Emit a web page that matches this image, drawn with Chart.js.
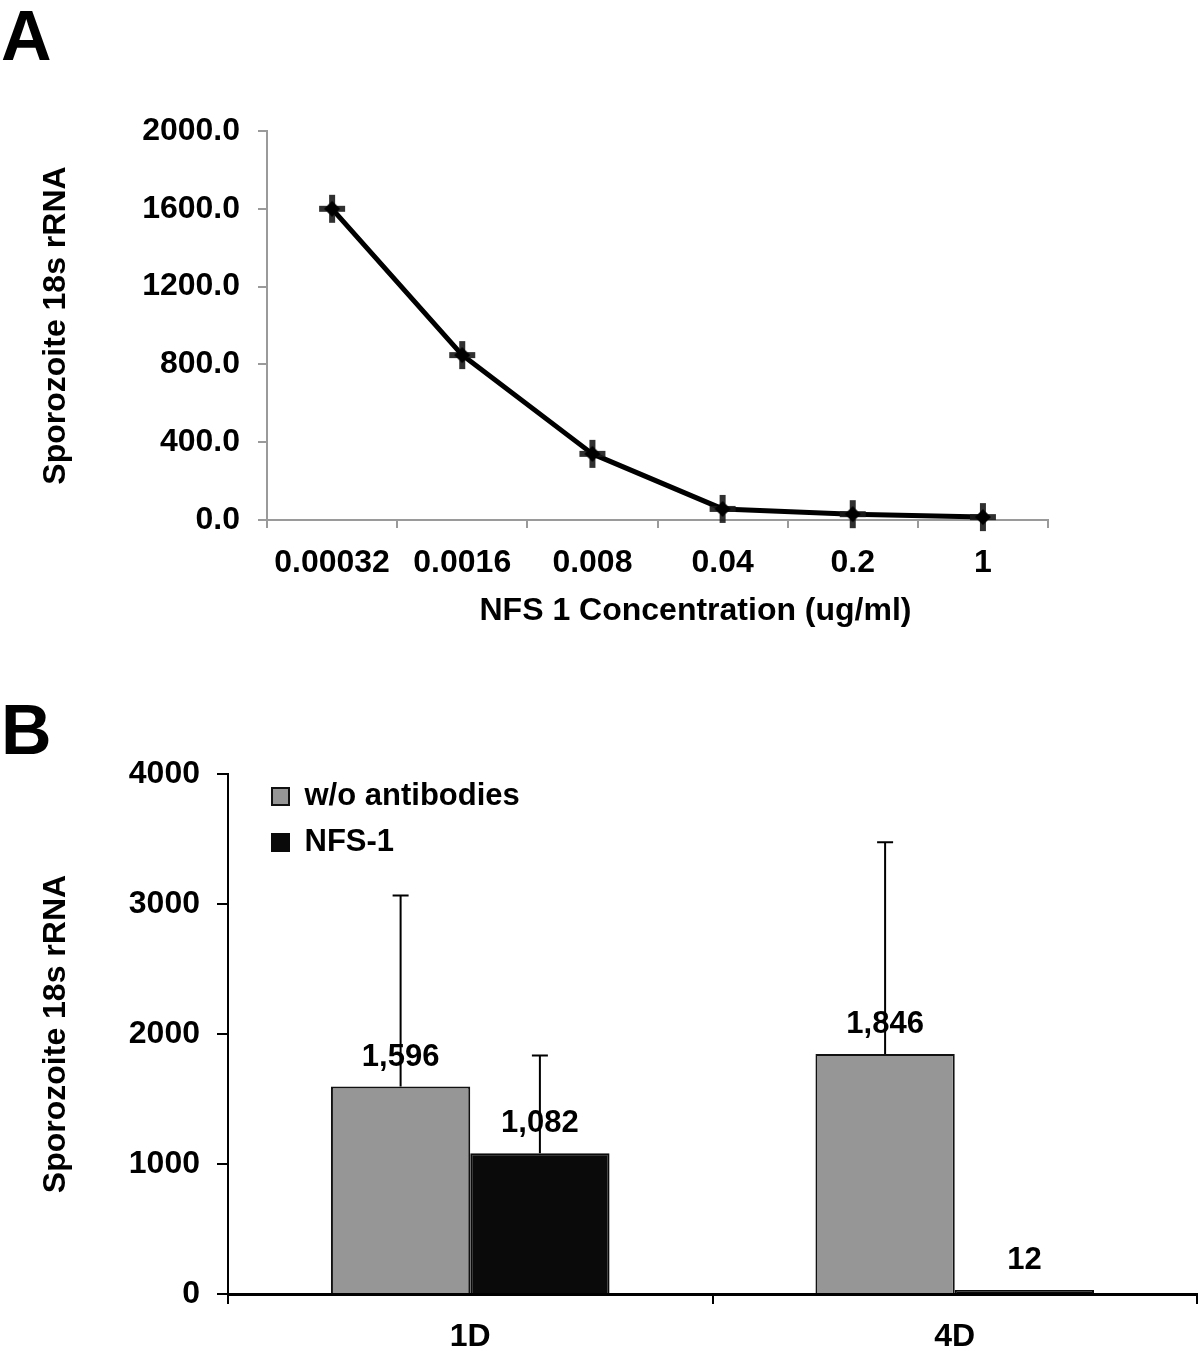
<!DOCTYPE html>
<html>
<head>
<meta charset="utf-8">
<script src="https://cdn.jsdelivr.net/npm/chart.js@4.4.0/dist/chart.umd.min.js"></script>
<style>
html,body{margin:0;padding:0;background:#fff;width:1200px;height:1354px;overflow:hidden;}
.panel{position:absolute;font-family:"Liberation Sans",Arial,sans-serif;font-weight:bold;font-size:70px;line-height:70px;color:#000;}
#wrapA{position:absolute;left:0;top:0;width:1200px;height:650px;}
#wrapB{position:absolute;left:0;top:650px;width:1200px;height:704px;}
canvas{display:block;}
</style>
</head>
<body>
<div class="panel" style="left:1px;top:1px;">A</div>
<div class="panel" style="left:1px;top:695px;">B</div>
<div id="wrapA"><canvas id="chartA" width="1200" height="650"></canvas></div>
<div id="wrapB"><canvas id="chartB" width="1200" height="704"></canvas></div>
<script>
// ---------- Data: panel A ----------
const concLabels = ['0.00032', '0.0016', '0.008', '0.04', '0.2', '1'];
const rrnaValues = [1600, 848, 340, 57, 30, 15];
const xTitleA = 'NFS 1 Concentration (ug/ml)';
const yTitle = 'Sporozoite 18s rRNA';

// ---------- Data: panel B ----------
const groupLabels = ['1D', '4D'];
const seriesNames = ['w/o antibodies', 'NFS-1'];
const withoutAbValues = [1596, 1846];
const nfs1Values = [1082, 12];
const withoutAbErr = [1469, 1629];
const nfs1Err = [752, 0];

const FONT = '"Liberation Sans", Arial, Helvetica, sans-serif';
Chart.defaults.font.family = FONT;
Chart.defaults.font.weight = 'bold';
Chart.defaults.font.size = 32;
Chart.defaults.color = '#000';

// marker: plus with dark diamond centre
function makeMarker() {
  const c = document.createElement('canvas');
  c.width = 30; c.height = 30;
  const g = c.getContext('2d');
  g.fillStyle = 'rgba(25,25,25,0.9)';
  g.fillRect(2, 12, 26, 6);
  g.fillRect(12, 1, 6, 28);
  g.fillStyle = '#000';
  g.beginPath();
  g.moveTo(15, 7); g.lineTo(23, 15); g.lineTo(15, 23); g.lineTo(7, 15); g.closePath();
  g.fill();
  return c;
}

const xTitlePlugin = {
  id: 'xTitleA',
  afterDraw(chart) {
    const {ctx, chartArea} = chart;
    ctx.save();
    ctx.font = 'bold 32px ' + FONT;
    ctx.fillStyle = '#000';
    ctx.textAlign = 'center';
    ctx.textBaseline = 'middle';
    ctx.fillText(xTitleA, (chartArea.left + chartArea.right) / 2 + 38, chartArea.bottom + 91);
    ctx.restore();
  }
};

new Chart(document.getElementById('chartA'), {
  type: 'line',
  data: {
    labels: concLabels,
    datasets: [{
      data: rrnaValues,
      borderColor: '#000',
      borderWidth: 5,
      borderJoinStyle: 'round',
      pointStyle: makeMarker(),
      tension: 0,
      fill: false,
      clip: false
    }]
  },
  options: {
    responsive: false,
    animation: false,
    events: [],
    layout: {padding: {left: 0, top: 131, right: 152, bottom: 0}},
    plugins: {legend: {display: false}, tooltip: {enabled: false}},
    scales: {
      x: {
        offset: true,
        grid: {offset: true, drawOnChartArea: false, drawTicks: true, tickLength: 8, color: '#9a9a9a', lineWidth: 2},
        border: {color: '#9a9a9a', width: 2},
        ticks: {padding: 16, maxRotation: 0, autoSkip: false, color: '#000'},
        afterFit(s) { s.height = 130; }
      },
      y: {
        min: 0, max: 2000,
        ticks: {stepSize: 400, padding: 18, color: '#000', callback: v => Number(v).toFixed(1)},
        grid: {drawOnChartArea: false, drawTicks: true, tickLength: 9, color: '#9a9a9a', lineWidth: 2},
        border: {color: '#9a9a9a', width: 2},
        title: {display: true, text: yTitle, color: '#000', padding: {top: 37, bottom: 0}},
        afterFit(s) { s.width = 267; }
      }
    }
  },
  plugins: [xTitlePlugin]
});

// ---------- Panel B ----------
const legendPlace = {
  id: 'legendPlace',
  afterLayout(chart) {
    const lg = chart.legend;
    if (!lg) return;
    const w = lg.width, h = lg.height;
    lg.left = chart.chartArea.left + 29;
    lg.top = chart.chartArea.top - 8;
    lg.right = lg.left + w;
    lg.bottom = lg.top + h;
  }
};

const barExtras = {
  id: 'barExtras',
  afterDatasetsDraw(chart) {
    const {ctx} = chart;
    const yScale = chart.scales.y;
    chart.data.datasets.forEach((ds, di) => {
      const meta = chart.getDatasetMeta(di);
      meta.data.forEach((bar, i) => {
        const v = ds.data[i];
        ctx.save();
        ctx.font = 'bold 31px ' + FONT;
        ctx.fillStyle = '#000';
        ctx.textAlign = 'center';
        ctx.textBaseline = 'alphabetic';
        ctx.fillText(v.toLocaleString('en-US'), bar.x, bar.y - 21);
        const e = ds.err[i];
        if (e > 0) {
          const yTop = yScale.getPixelForValue(v + e);
          ctx.strokeStyle = '#000';
          ctx.lineWidth = 2;
          ctx.beginPath();
          ctx.moveTo(bar.x, bar.y);
          ctx.lineTo(bar.x, yTop);
          ctx.moveTo(bar.x - 8, yTop);
          ctx.lineTo(bar.x + 8, yTop);
          ctx.stroke();
        }
        ctx.restore();
      });
    });
  }
};

new Chart(document.getElementById('chartB'), {
  type: 'bar',
  data: {
    labels: groupLabels,
    datasets: [
      {label: seriesNames[0], data: withoutAbValues, err: withoutAbErr, backgroundColor: '#969696', borderColor: '#111', borderWidth: 2, borderSkipped: 'bottom'},
      {label: seriesNames[1], data: nfs1Values, err: nfs1Err, backgroundColor: '#0a0a0a', borderColor: '#0a0a0a', borderWidth: 2, borderSkipped: 'bottom', minBarLength: 4}
    ]
  },
  options: {
    responsive: false,
    animation: false,
    events: [],
    layout: {padding: {left: 0, top: 124, right: 3, bottom: 0}},
    datasets: {bar: {categoryPercentage: 0.575, barPercentage: 1}},
    plugins: {
      tooltip: {enabled: false},
      legend: {
        position: 'chartArea',
        align: 'start',
        labels: {boxWidth: 17, boxHeight: 17, padding: 15, color: '#000', font: {size: 31, weight: 'bold'}}
      }
    },
    scales: {
      x: {
        grid: {offset: true, drawOnChartArea: false, drawTicks: true, tickLength: 10, color: '#000', lineWidth: 2},
        border: {color: '#000', width: 3},
        ticks: {padding: 14, color: '#000'},
        afterFit(s) { s.height = 60; }
      },
      y: {
        min: 0, max: 4000,
        ticks: {stepSize: 1000, padding: 17, color: '#000', callback: v => String(v)},
        grid: {drawOnChartArea: false, drawTicks: true, tickLength: 11, color: '#000', lineWidth: 2},
        border: {color: '#000', width: 2},
        title: {display: true, text: yTitle, color: '#000', padding: {top: 37, bottom: 0}},
        afterFit(s) { s.width = 228; }
      }
    }
  },
  plugins: [legendPlace, barExtras]
});
</script>
</body>
</html>
